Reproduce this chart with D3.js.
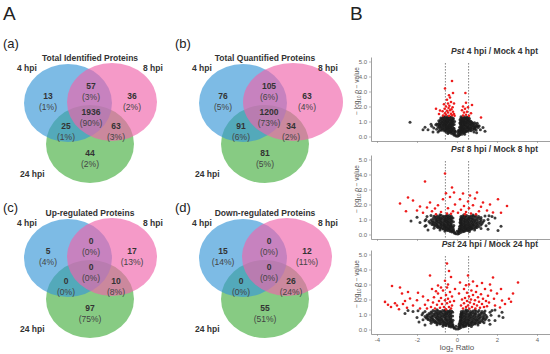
<!DOCTYPE html>
<html lang="en">
<head>
<meta charset="UTF-8">
<title>Venn diagrams and volcano plots</title>
<script src="https://d3js.org/d3.v7.min.js"></script>
<style>
  body { margin: 0; background: #fff; }
  svg { display: block; font-family: "Liberation Sans", Arial, sans-serif; }
</style>
</head>
<body>
<svg id="fig" width="550" height="354"></svg>
<script>
// ---- Venn data (region order: 4 only, 4&8, 8 only, all, 4&24, 8&24, 24 only)
const vennSets = ["4 hpi", "8 hpi", "24 hpi"];
const vennTags = ["(a)", "(b)", "(c)", "(d)"];
const vennTitles = ["Total Identified Proteins", "Total Quantified Proteins", "Up-regulated Proteins", "Down-regulated Proteins"];
const identifiedN = [13, 57, 36, 1936, 25, 63, 44];
const identifiedPct = [1, 3, 2, 90, 1, 3, 2];
const quantifiedN = [76, 105, 63, 1200, 91, 34, 81];
const quantifiedPct = [5, 6, 4, 73, 6, 2, 5];
const upN = [5, 0, 17, 0, 0, 10, 97];
const upPct = [4, 0, 13, 0, 0, 8, 75];
const downN = [15, 0, 12, 0, 0, 26, 55];
const downPct = [14, 0, 11, 0, 0, 24, 51];

// ---- Volcano data: [log2 ratio, -log10 p]
const volcanoTitles = [["Pst", " 4 hpi / Mock 4 hpt"], ["Pst", " 8 hpi / Mock 8 hpt"], ["Pst", " 24 hpi / Mock 24 hpt"]];
const yTicks = [0, 1, 2, 3, 4, 5];
const xTicks = [-4, -2, 0, 2, 4];
const foldCut = [-0.58, 0.58];

const black4 = [[-0.05,0.04],[0.03,0.02],[0.09,0.07],[-0.13,0.09],[0.14,0.12],[-0.21,0.16],[-0.09,0.13],[0.06,0.18],[0.17,0.2],[0.24,0.15],[-0.29,0.22],
[-0.41,0.27],[-0.31,0.3],[-0.16,0.24],[0.13,0.26],[0.27,0.28],[0.36,0.23],[-0.52,0.29],[0.46,0.31],
[-0.62,0.36],[-0.46,0.38],[-0.33,0.34],[-0.21,0.4],[0.16,0.37],[0.29,0.39],[0.41,0.33],[0.56,0.36],[-0.76,0.41],[0.71,0.38],
[-0.82,0.47],[-0.63,0.44],[-0.51,0.49],[-0.37,0.46],[-0.26,0.5],[0.21,0.45],[0.33,0.48],[0.46,0.44],[0.61,0.5],[0.79,0.46],[-1.02,0.48],[0.96,0.43],
[-0.91,0.57],[-0.71,0.54],[-0.56,0.58],[-0.43,0.55],[-0.31,0.6],[0.23,0.56],[0.36,0.53],[0.51,0.59],[0.66,0.55],[0.86,0.58],[-1.16,0.56],[1.06,0.6],
[-0.96,0.66],[-0.79,0.64],[-0.61,0.68],[-0.46,0.63],[-0.32,0.67],[0.26,0.65],[0.39,0.69],[0.53,0.64],[0.71,0.67],[0.91,0.63],[-1.26,0.68],[1.11,0.7],
[-0.86,0.76],[-0.71,0.73],[-0.56,0.78],[-0.41,0.74],[-0.29,0.77],[0.21,0.75],[0.36,0.79],[0.51,0.73],[0.69,0.77],[0.86,0.74],[-1.06,0.79],
[-0.81,0.86],[-0.66,0.83],[-0.51,0.88],[-0.36,0.84],[-0.23,0.87],[0.23,0.86],[0.36,0.83],[0.49,0.88],[0.63,0.85],[0.81,0.87],[-1.01,0.84],[1.01,0.89],
[-0.76,0.96],[-0.61,0.93],[-0.46,0.98],[-0.31,0.94],[-0.19,0.97],[0.21,0.95],[0.33,0.99],[0.46,0.93],[0.61,0.97],[0.76,0.94],
[-0.71,1.06],[-0.56,1.03],[-0.41,1.08],[-0.26,1.04],[0.23,1.06],[0.36,1.02],[0.51,1.07],[0.66,1.04],[-0.91,1.05],
[-0.76,1.16],[-0.61,1.13],[-0.46,1.18],[-0.31,1.14],[0.26,1.15],[0.39,1.18],[0.53,1.13],
[-0.66,1.26],[-0.51,1.23],[-0.36,1.28],[0.26,1.25],[0.41,1.22],[0.56,1.27],[-0.81,1.24],
[-0.15,0.55],[-0.14,0.8],[-0.12,1.0],[0.13,0.62],[0.14,0.9],[0.15,1.12],[-0.18,1.2],[-0.08,0.35],[0.08,0.42],
[-0.45,0.2],[0.38,0.15],[-0.88,0.38],[0.88,0.48],[-0.68,1.35],[-0.45,1.33],[0.35,1.32],
[-0.24,0.31],[-0.1,0.29],[0.05,0.3],[0.2,0.31],[0.32,0.29],
[-0.55,0.41],[-0.4,0.39],[-0.28,0.41],[-0.12,0.4],[0.1,0.39],[0.24,0.41],[0.36,0.4],[0.5,0.39],[0.64,0.41],
[-0.72,0.51],[-0.57,0.5],[-0.44,0.52],[-0.32,0.5],[-0.18,0.51],[0.16,0.5],[0.28,0.52],[0.4,0.5],[0.54,0.51],[0.7,0.5],[0.88,0.52],
[-0.82,0.61],[-0.64,0.6],[-0.5,0.62],[-0.37,0.6],[-0.22,0.61],[0.18,0.6],[0.3,0.62],[0.44,0.6],[0.58,0.61],[0.76,0.6],[0.95,0.62],
[-0.88,0.71],[-0.7,0.7],[-0.53,0.72],[-0.39,0.7],[-0.24,0.71],[0.2,0.7],[0.32,0.72],[0.46,0.7],[0.62,0.71],[0.8,0.7],[1.0,0.72],
[-0.93,0.81],[-0.78,0.8],[-0.63,0.82],[-0.48,0.8],[-0.34,0.81],[-0.2,0.8],[0.18,0.81],[0.3,0.8],[0.43,0.82],[0.58,0.8],[0.76,0.81],[0.93,0.8],
[-0.88,0.91],[-0.72,0.9],[-0.58,0.92],[-0.43,0.9],[-0.28,0.91],[0.17,0.9],[0.29,0.92],[0.42,0.9],[0.55,0.91],[0.7,0.9],[0.88,0.92],
[-0.83,1.01],[-0.68,1.0],[-0.53,1.02],[-0.38,1.0],[-0.24,1.01],[0.18,1.0],[0.28,1.02],[0.4,1.0],[0.54,1.01],[0.7,1.0],
[-0.82,1.11],[-0.64,1.1],[-0.48,1.12],[-0.34,1.1],[-0.2,1.11],[0.2,1.1],[0.3,1.12],[0.44,1.1],[0.58,1.11],
[-0.7,1.21],[-0.54,1.2],[-0.4,1.22],[-0.24,1.2],[0.2,1.21],[0.33,1.2],[0.46,1.22],[0.62,1.2],
[-0.58,1.31],[-0.28,1.3],[0.2,1.31],[0.48,1.3],
[-2.35,0.95],[-1.7,0.45],[-1.45,0.45],[-1.6,0.62],[-1.3,0.82],[-1.2,0.3],[1.05,0.72],[1.3,0.6],[1.17,0.45],[1.4,0.35],[0.98,0.25],[-0.95,0.3],[0.85,0.3]];
const red4 = [[-0.7,1.4],[-0.55,1.45],[-0.4,1.38],[-0.25,1.42],[-0.6,1.55],[-0.45,1.6],[-0.3,1.52],[-0.15,1.5],[-0.72,1.68],[-0.5,1.72],[-0.35,1.75],[-0.2,1.65],
[-0.62,1.85],[-0.42,1.9],[-0.28,1.82],[-0.55,2.0],[-0.38,2.05],[-0.22,1.95],[-0.65,2.15],[-0.45,2.2],[-0.3,2.3],[-0.5,2.45],[-0.35,2.6],[-0.2,2.9],
[-0.6,3.2],[-0.25,3.7],[-0.85,1.73],[-1.05,1.85],[-0.9,1.5],[-0.12,1.38],[-0.4,2.75],[-0.15,2.2],
[0.3,1.4],[0.45,1.45],[0.6,1.38],[0.35,1.6],[0.5,1.65],[0.7,1.55],[0.4,1.85],[0.55,1.95],[0.3,2.0],[0.75,2.1],[0.45,2.25],[0.42,2.9],[1.2,1.27],[0.25,1.75]];

const black8 = [[-0.05,0.05],[0.04,0.03],[0.1,0.07],[-0.12,0.09],[-0.25,0.16],[-0.12,0.13],[0.06,0.17],[0.18,0.14],[0.28,0.18],
[-0.45,0.26],[-0.32,0.23],[-0.18,0.27],[0.12,0.24],[0.25,0.28],[0.38,0.23],[0.5,0.27],
[-0.7,0.36],[-0.55,0.33],[-0.4,0.37],[-0.25,0.34],[0.15,0.36],[0.3,0.33],[0.45,0.37],[0.6,0.34],[0.75,0.36],
[-0.95,0.46],[-0.78,0.43],[-0.6,0.47],[-0.45,0.44],[-0.3,0.46],[0.2,0.43],[0.35,0.47],[0.5,0.44],[0.65,0.46],[0.82,0.43],[1.0,0.47],
[-1.1,0.56],[-0.9,0.53],[-0.72,0.57],[-0.55,0.54],[-0.4,0.56],[-0.28,0.53],[0.22,0.57],[0.38,0.54],[0.55,0.56],[0.7,0.53],[0.88,0.57],[1.1,0.54],
[-1.25,0.66],[-1.02,0.63],[-0.82,0.67],[-0.65,0.64],[-0.48,0.66],[-0.32,0.63],[0.25,0.67],[0.42,0.64],[0.6,0.66],[0.78,0.63],[0.98,0.67],[1.2,0.64],
[-1.35,0.76],[-1.1,0.73],[-0.9,0.77],[-0.7,0.74],[-0.52,0.76],[-0.35,0.73],[0.22,0.77],[0.4,0.74],[0.58,0.76],[0.78,0.73],[1.0,0.77],[1.25,0.74],
[-1.4,0.86],[-1.15,0.83],[-0.95,0.87],[-0.75,0.84],[-0.55,0.86],[-0.38,0.83],[0.25,0.87],[0.42,0.84],[0.62,0.86],[0.82,0.83],[1.05,0.87],[1.3,0.84],
[-1.3,0.96],[-1.05,0.93],[-0.85,0.97],[-0.65,0.94],[-0.48,0.96],[-0.32,0.93],[0.22,0.97],[0.4,0.94],[0.58,0.96],[0.78,0.93],[1.0,0.97],[1.35,0.94],
[-1.2,1.06],[-0.98,1.03],[-0.78,1.07],[-0.6,1.04],[-0.42,1.06],[-0.28,1.03],[0.25,1.07],[0.42,1.04],[0.6,1.06],[0.8,1.03],[1.1,1.07],
[-1.1,1.16],[-0.9,1.13],[-0.7,1.17],[-0.52,1.14],[-0.35,1.16],[0.25,1.13],[0.45,1.17],[0.65,1.14],[0.9,1.16],[1.2,1.13],
[-1.3,1.26],[-1.0,1.23],[-0.78,1.27],[-0.55,1.24],[-0.38,1.26],[0.28,1.23],[0.48,1.27],[0.7,1.24],[0.95,1.26],[1.4,1.23],
[-0.16,0.6],[-0.18,0.85],[-0.2,1.1],[0.14,0.55],[0.15,0.8],[0.17,1.0],[-0.6,0.22],[0.62,0.2],[-0.85,0.3],[0.88,0.3],[-1.15,0.42],[1.2,0.4],
[-1.55,0.6],[1.45,0.58],[-1.6,0.92],[1.55,1.0],[-1.5,1.2],[1.6,1.25],
[-0.35,0.21],[-0.2,0.2],[0.0,0.21],[0.12,0.2],[0.35,0.21],
[-0.6,0.31],[-0.48,0.3],[-0.33,0.31],[-0.18,0.3],[0.1,0.31],[0.22,0.3],[0.38,0.31],[0.52,0.3],[0.65,0.31],
[-0.85,0.41],[-0.68,0.4],[-0.52,0.41],[-0.38,0.4],[-0.2,0.41],[0.12,0.4],[0.26,0.41],[0.42,0.4],[0.56,0.41],[0.7,0.4],[0.9,0.41],
[-1.0,0.51],[-0.82,0.5],[-0.65,0.51],[-0.5,0.5],[-0.35,0.51],[-0.2,0.5],[0.15,0.51],[0.3,0.5],[0.45,0.51],[0.6,0.5],[0.76,0.51],[0.95,0.5],
[-1.15,0.61],[-0.95,0.6],[-0.78,0.61],[-0.6,0.6],[-0.45,0.61],[-0.3,0.6],[0.2,0.61],[0.33,0.6],[0.48,0.61],[0.65,0.6],[0.82,0.61],[1.02,0.6],
[-1.2,0.71],[-1.0,0.7],[-0.8,0.71],[-0.62,0.7],[-0.45,0.71],[-0.28,0.7],[0.18,0.71],[0.32,0.7],[0.5,0.71],[0.68,0.7],[0.88,0.71],[1.1,0.7],
[-1.25,0.81],[-1.03,0.8],[-0.84,0.81],[-0.65,0.8],[-0.46,0.81],[-0.3,0.8],[0.18,0.81],[0.34,0.8],[0.52,0.81],[0.72,0.8],[0.92,0.81],[1.15,0.8],
[-1.22,0.91],[-1.0,0.9],[-0.8,0.91],[-0.6,0.9],[-0.44,0.91],[-0.26,0.9],[0.18,0.91],[0.33,0.9],[0.5,0.91],[0.7,0.9],[0.9,0.91],[1.18,0.9],
[-1.1,1.01],[-0.9,1.0],[-0.72,1.01],[-0.54,1.0],[-0.36,1.01],[0.18,1.0],[0.33,1.01],[0.5,1.0],[0.7,1.01],[0.9,1.0],[1.2,1.01],
[-1.02,1.11],[-0.82,1.1],[-0.62,1.11],[-0.45,1.1],[-0.28,1.11],[0.2,1.1],[0.36,1.11],[0.55,1.1],[0.76,1.11],[1.0,1.1],
[-1.15,1.21],[-0.9,1.2],[-0.66,1.21],[-0.46,1.2],[-0.28,1.21],[0.2,1.2],[0.38,1.21],[0.6,1.2],[0.82,1.21],[1.08,1.2],
[-0.85,1.31],[-0.5,1.3],[0.35,1.31],[0.8,1.3],
[-1.85,0.8],[-1.6,0.55],[-2.0,1.15],[-1.55,1.0],[1.9,1.1],[2.05,0.27],[1.55,0.35],[1.6,0.75],[1.75,1.2],[-1.45,0.3],[2.2,0.55],[-2.3,0.9]];
const red8 = [[-2.85,2.07],[-2.45,2.47],[-2.2,2.27],[-1.85,1.87],[-1.6,3.53],[-1.35,2.13],[-1.1,1.73],[-0.6,4.07],[-0.25,3.13],[0.3,2.73],[1.0,2.8],[0.9,2.4],
[1.3,2.13],[1.8,1.47],[-2.0,1.6],[-1.7,1.45],[-1.5,1.8],[-1.25,1.55],[-0.95,1.95],[-0.8,1.5],[-0.7,2.35],[-0.5,1.4],[-0.45,1.75],[-0.35,2.5],[-0.2,1.55],
[-0.1,2.0],[0.05,1.45],[0.2,1.65],[0.35,1.9],[0.45,1.5],[0.55,2.2],[0.6,1.75],[0.7,1.4],[0.8,1.95],[1.1,1.55],[1.2,1.85],[1.5,1.6],[1.65,2.0],[2.05,2.35],
[2.2,1.45],[0.15,2.35],[-0.55,2.75],[0.4,1.35],[-0.3,1.38],[0.95,1.35],[-1.05,1.35],[2.5,1.9],[-2.55,1.55],[-0.15,2.8],[0.65,2.6]];

const black24 = [[-0.05,0.04],[0.05,0.03],[0.12,0.07],[-0.14,0.08],[-0.3,0.16],[-0.15,0.13],[0.08,0.17],[0.2,0.14],[0.32,0.18],
[-0.55,0.26],[-0.38,0.23],[-0.22,0.27],[0.15,0.24],[0.3,0.28],[0.45,0.23],[0.6,0.27],
[-0.85,0.36],[-0.65,0.33],[-0.48,0.37],[-0.3,0.34],[0.18,0.36],[0.35,0.33],[0.52,0.37],[0.7,0.34],[0.9,0.36],
[-1.1,0.46],[-0.9,0.43],[-0.7,0.47],[-0.52,0.44],[-0.35,0.46],[0.2,0.43],[0.38,0.47],[0.55,0.44],[0.75,0.46],[0.95,0.43],[1.15,0.47],
[-1.3,0.56],[-1.08,0.53],[-0.88,0.57],[-0.68,0.54],[-0.5,0.56],[-0.32,0.53],[0.22,0.57],[0.4,0.54],[0.6,0.56],[0.8,0.53],[1.02,0.57],[1.28,0.54],
[-1.45,0.66],[-1.2,0.63],[-0.98,0.67],[-0.78,0.64],[-0.58,0.66],[-0.38,0.63],[0.25,0.67],[0.45,0.64],[0.65,0.66],[0.88,0.63],[1.1,0.67],[1.4,0.64],
[-1.55,0.76],[-1.3,0.73],[-1.05,0.77],[-0.85,0.74],[-0.62,0.76],[-0.4,0.73],[0.25,0.77],[0.45,0.74],[0.68,0.76],[0.9,0.73],[1.15,0.77],[1.45,0.74],
[-1.6,0.86],[-1.35,0.83],[-1.1,0.87],[-0.88,0.84],[-0.65,0.86],[-0.42,0.83],[0.28,0.87],[0.48,0.84],[0.7,0.86],[0.95,0.83],[1.2,0.87],[1.5,0.84],
[-1.5,0.96],[-1.25,0.93],[-1.0,0.97],[-0.8,0.94],[-0.58,0.96],[-0.38,0.93],[0.25,0.97],[0.45,0.94],[0.68,0.96],[0.9,0.93],[1.15,0.97],[1.45,0.94],
[-1.4,1.06],[-1.15,1.03],[-0.92,1.07],[-0.7,1.04],[-0.5,1.06],[-0.32,1.03],[0.28,1.07],[0.5,1.04],[0.72,1.06],[0.95,1.03],[1.25,1.07],
[-1.3,1.16],[-1.05,1.13],[-0.82,1.17],[-0.6,1.14],[-0.4,1.16],[0.3,1.13],[0.52,1.17],[0.78,1.14],[1.05,1.16],[1.35,1.13],
[-1.2,1.26],[-0.95,1.23],[-0.72,1.27],[-0.5,1.24],[-0.35,1.26],[0.32,1.23],[0.55,1.27],[0.8,1.24],[1.1,1.26],[1.4,1.23],
[-0.2,0.62],[-0.22,0.9],[-0.22,1.15],[0.16,0.58],[0.17,0.85],[0.2,1.05],[-0.7,0.22],[0.72,0.2],[-1.0,0.32],[1.05,0.3],[-1.3,0.42],[1.35,0.45],
[-1.7,0.65],[1.6,0.62],[-1.75,0.98],[1.7,0.95],[-1.6,1.2],[1.65,1.15],[-1.95,1.25],[1.9,1.3],
[-0.4,0.21],[-0.22,0.2],[-0.05,0.21],[0.14,0.2],[0.38,0.21],
[-0.7,0.31],[-0.55,0.3],[-0.38,0.31],[-0.2,0.3],[0.1,0.31],[0.26,0.3],[0.44,0.31],[0.6,0.3],[0.78,0.31],
[-1.0,0.41],[-0.8,0.4],[-0.6,0.41],[-0.42,0.4],[-0.25,0.41],[0.12,0.4],[0.28,0.41],[0.46,0.4],[0.65,0.41],[0.85,0.4],[1.05,0.41],
[-1.2,0.51],[-1.0,0.5],[-0.8,0.51],[-0.6,0.5],[-0.42,0.51],[-0.24,0.5],[0.15,0.51],[0.3,0.5],[0.5,0.51],[0.7,0.5],[0.9,0.51],[1.12,0.5],
[-1.35,0.61],[-1.12,0.6],[-0.9,0.61],[-0.7,0.6],[-0.5,0.61],[-0.3,0.6],[0.18,0.61],[0.35,0.6],[0.55,0.61],[0.75,0.6],[0.98,0.61],[1.22,0.6],
[-1.45,0.71],[-1.2,0.7],[-0.95,0.71],[-0.75,0.7],[-0.52,0.71],[-0.3,0.7],[0.18,0.71],[0.35,0.7],[0.56,0.71],[0.78,0.7],[1.02,0.71],[1.3,0.7],
[-1.5,0.81],[-1.25,0.8],[-1.0,0.81],[-0.78,0.8],[-0.55,0.81],[-0.32,0.8],[0.2,0.81],[0.38,0.8],[0.6,0.81],[0.82,0.8],[1.08,0.81],[1.35,0.8],
[-1.45,0.91],[-1.2,0.9],[-0.95,0.91],[-0.72,0.9],[-0.5,0.91],[-0.3,0.9],[0.2,0.91],[0.36,0.9],[0.58,0.91],[0.8,0.9],[1.05,0.91],[1.32,0.9],
[-1.35,1.01],[-1.1,1.0],[-0.85,1.01],[-0.62,1.0],[-0.42,1.01],[0.2,1.0],[0.38,1.01],[0.6,1.0],[0.85,1.01],[1.1,1.0],[1.38,1.01],
[-1.25,1.11],[-0.98,1.1],[-0.75,1.11],[-0.52,1.1],[-0.32,1.11],[0.22,1.1],[0.42,1.11],[0.65,1.1],[0.9,1.11],[1.2,1.1],
[-1.1,1.21],[-0.85,1.2],[-0.62,1.21],[-0.42,1.2],[-0.26,1.21],[0.22,1.2],[0.44,1.21],[0.68,1.2],[0.95,1.21],[1.25,1.2],
[-1.0,1.31],[-0.6,1.3],[0.45,1.31],[0.9,1.3],
[-2.0,0.8],[-2.6,1.07],[1.3,0.73],[1.75,1.27],[2.25,1.15],[-1.9,0.5],[-2.2,1.2],[1.9,0.6],[2.1,0.9],[-1.7,1.1],[1.65,0.35],[-1.6,0.3],[2.3,0.8],[-2.45,1.27]];
const red24 = [[-3.6,1.84],[-3.25,2.9],[-2.85,2.8],[-2.75,2.4],[-3.0,1.6],[-2.35,2.07],[-1.25,2.7],[-1.35,3.6],[-0.95,2.93],[-0.5,4.4],[0.15,3.13],[0.8,3.2],
[1.8,3.47],[3.05,3.13],[2.8,2.4],[2.25,1.93],[2.15,1.47],
[-3.3,1.5],[-3.1,1.75],[-2.9,1.35],[-2.6,1.9],[-2.5,1.45],[-2.2,1.6],[-2.0,1.95],[-1.85,1.4],[-1.7,2.2],[-1.6,1.65],[-1.45,1.95],[-1.5,1.4],[-2.7,1.7],
[-3.45,1.65],[-2.45,2.5],[-1.95,2.45],
[-1.3,1.5],[-1.2,1.8],[-1.15,2.15],[-1.1,1.4],[-1.0,1.65],[-0.95,2.4],[-0.9,1.9],[-0.85,1.45],[-0.8,2.1],[-0.75,1.7],[-0.7,2.6],[-0.65,1.5],[-0.6,1.95],
[-0.55,2.3],[-0.55,1.35],[-0.5,1.75],[-0.45,2.05],[-0.45,3.0],[-0.4,1.5],[-0.35,2.5],[-0.35,1.85],[-0.3,1.4],[-0.25,2.2],[-0.25,1.6],[-0.6,3.25],
[-0.8,2.8],[-1.05,2.55],[-0.5,2.8],[-0.3,3.5],[-0.4,3.9],
[0.3,1.4],[0.35,1.75],[0.4,2.1],[0.45,1.5],[0.5,2.45],[0.5,1.9],[0.55,1.6],[0.6,2.2],[0.62,1.38],[0.65,1.8],[0.7,2.0],[0.72,2.6],[0.75,1.5],[0.8,2.3],
[0.85,1.7],[0.9,1.95],[0.92,1.4],[0.95,2.5],[1.0,1.6],[1.05,2.15],[1.1,1.85],[1.15,1.45],[1.2,2.35],[1.25,1.7],[1.3,2.05],[1.35,1.5],[1.4,2.7],[1.45,1.9],
[1.5,1.55],[1.55,2.25],[0.25,2.0],[0.35,2.7],[0.45,2.95],[0.6,3.0],[0.2,1.6],[1.0,2.9],[1.25,3.1],[0.55,3.6],[1.6,1.8],[1.7,2.6],[1.85,2.05],[1.9,1.6],
[2.0,2.4],[2.4,1.7],[2.6,2.05],[2.7,1.85],[2.2,2.7],[1.65,3.0],[-0.15,1.9],[0.1,2.4],[-0.1,2.7]];

const svg = d3.select("#fig");

// panel letters
svg.append("text").attr("x", 3).attr("y", 20).attr("font-size", 19).attr("fill", "#222").text("A");
svg.append("text").attr("x", 350).attr("y", 20).attr("font-size", 19).attr("fill", "#222").text("B");

// ---------- Venn diagrams ----------
const vennData = [
  {n: identifiedN, pct: identifiedPct},
  {n: quantifiedN, pct: quantifiedPct},
  {n: upN, pct: upPct},
  {n: downN, pct: downPct}
];
const origins = [[0, 0], [175, 0], [0, 155], [175, 155]];
const tagY = [48, 48, 57, 57];
// region label centres, relative to panel origin
const regionPos = [[48, 96], [91, 86], [132, 96], [91, 112], [66, 126], [116, 126], [90, 153]];
const setColors = ["#3796d7", "#f064aa", "#46af41"];

vennData.forEach((d, i) => {
  const [ox, oy] = origins[i];
  const g = svg.append("g").attr("transform", `translate(${ox},${oy})`);
  const pinkRx = i === 1 ? 50 : 45, pinkCx = i === 1 ? 118 : 112;
  const ell = [
    {cx: 90, cy: 144, rx: 44, ry: 39, c: setColors[2]},
    {cx: 68, cy: 103, rx: 44, ry: 39, c: setColors[0]},
    {cx: pinkCx, cy: 102, rx: pinkRx, ry: 39, c: setColors[1]}
  ];
  g.selectAll("ellipse").data(ell).join("ellipse")
    .attr("cx", e => e.cx).attr("cy", e => e.cy)
    .attr("rx", e => e.rx).attr("ry", e => e.ry)
    .attr("fill", e => e.c).attr("fill-opacity", 0.65);

  g.append("text").attr("x", i % 2 ? 0 : 3).attr("y", tagY[i]).attr("font-size", 13).attr("fill", "#222").text(vennTags[i]);
  g.append("text").attr("x", 90).attr("y", 61).attr("text-anchor", "middle")
    .attr("font-size", 8.5).attr("font-weight", "bold").attr("fill", "#333").text(vennTitles[i]);
  g.append("text").attr("x", 17).attr("y", 71).attr("font-size", 8.5).attr("font-weight", "bold").attr("fill", "#333").text(vennSets[0]);
  g.append("text").attr("x", 143).attr("y", 71).attr("font-size", 8.5).attr("font-weight", "bold").attr("fill", "#333").text(vennSets[1]);
  g.append("text").attr("x", 20).attr("y", 177).attr("font-size", 8.5).attr("font-weight", "bold").attr("fill", "#333").text(vennSets[2]);

  const lab = g.selectAll("g.region").data(d.n.map((v, k) => ({v, p: d.pct[k], pos: regionPos[k]})))
    .join("g").attr("class", "region")
    .attr("transform", r => `translate(${r.pos[0] + (i % 2 && (r.pos[0] === 91) ? 3 : 0)},${r.pos[1]})`);
  lab.append("text").attr("y", 3).attr("text-anchor", "middle").attr("font-size", 8.5)
    .attr("font-weight", "bold").attr("fill", "#333").text(r => r.v);
  lab.append("text").attr("y", 13.5).attr("text-anchor", "middle").attr("font-size", 8.5)
    .attr("fill", "#444").text(r => `(${r.p}%)`);
});

// ---------- Volcano plots ----------
const x = d3.scaleLinear().domain([-4.3, 4.65]).range([371, 550]);
const panels = [
  {black: black4, red: red4, top: 57, bottom: 141},
  {black: black8, red: red8, top: 155, bottom: 239},
  {black: black24, red: red24, top: 250, bottom: 334}
];

panels.forEach((p, i) => {
  const y = d3.scaleLinear().domain([-0.3, 5.3]).range([p.bottom, p.top]);
  const g = svg.append("g");

  const yAx = g.append("g").attr("transform", `translate(${x.range()[0]},0)`)
    .call(d3.axisLeft(y).tickValues(yTicks).tickSize(2).tickSizeOuter(0).tickPadding(2));
  const xAx = g.append("g").attr("transform", `translate(0,${p.bottom})`)
    .call(d3.axisBottom(x).tickValues(xTicks).tickSize(2).tickSizeOuter(0).tickPadding(2)
      .tickFormat(v => i === 2 ? String(v) : ""));
  if (i < 2) xAx.selectAll(".tick text").remove();
  [yAx, xAx].forEach(a => {
    a.select(".domain").attr("stroke", "#888").attr("stroke-width", 0.8);
    a.selectAll(".tick line").attr("stroke", "#888").attr("stroke-width", 0.6);
    a.selectAll(".tick text").attr("fill", "#666").attr("font-size", 6)
      .attr("font-family", "'Liberation Sans', Arial, sans-serif");
  });

  // fold-change cut-offs
  g.selectAll("line.cut").data(foldCut).join("line").attr("class", "cut")
    .attr("x1", v => x(v)).attr("x2", v => x(v))
    .attr("y1", y(4.9)).attr("y2", p.bottom)
    .attr("stroke", "#555").attr("stroke-width", 0.7).attr("stroke-dasharray", "1.6,1.4");

  g.selectAll("circle.ns").data(p.black).join("circle").attr("class", "ns")
    .attr("cx", d => x(d[0])).attr("cy", d => y(d[1])).attr("r", 1.5)
    .attr("fill", "#1c1c1c").attr("fill-opacity", 0.85);
  g.selectAll("circle.sig").data(p.red).join("circle").attr("class", "sig")
    .attr("cx", d => x(d[0])).attr("cy", d => y(d[1])).attr("r", 1.3)
    .attr("fill", "#ee1c1c");

  // title
  const t = g.append("text").attr("x", 538).attr("y", p.top - 3).attr("text-anchor", "end")
    .attr("font-size", 8.5).attr("font-weight", "bold").attr("fill", "#333");
  t.append("tspan").attr("font-style", "italic").text(volcanoTitles[i][0]);
  t.append("tspan").text(volcanoTitles[i][1]);

  // y label
  const cy = (p.top + p.bottom) / 2 - 8;
  const yl = g.append("text").attr("transform", `translate(359,${cy}) rotate(-90)`)
    .attr("text-anchor", "middle").attr("font-size", 6.5).attr("fill", "#555");
  yl.append("tspan").text("\u2212 log");
  yl.append("tspan").attr("font-size", 4.5).attr("dy", 1.5).text("10");
  yl.append("tspan").attr("dy", -1.5).text(" ");
  yl.append("tspan").attr("font-style", "italic").text("p");
  yl.append("tspan").text(" \u2212 value");
});

// x label
const xl = svg.append("text").attr("x", 457).attr("y", 350).attr("text-anchor", "middle")
  .attr("font-size", 8).attr("fill", "#555");
xl.append("tspan").text("log");
xl.append("tspan").attr("font-size", 5.5).attr("dy", 1.5).text("2");
xl.append("tspan").attr("dy", -1.5).text(" Ratio");
</script>
</body>
</html>
